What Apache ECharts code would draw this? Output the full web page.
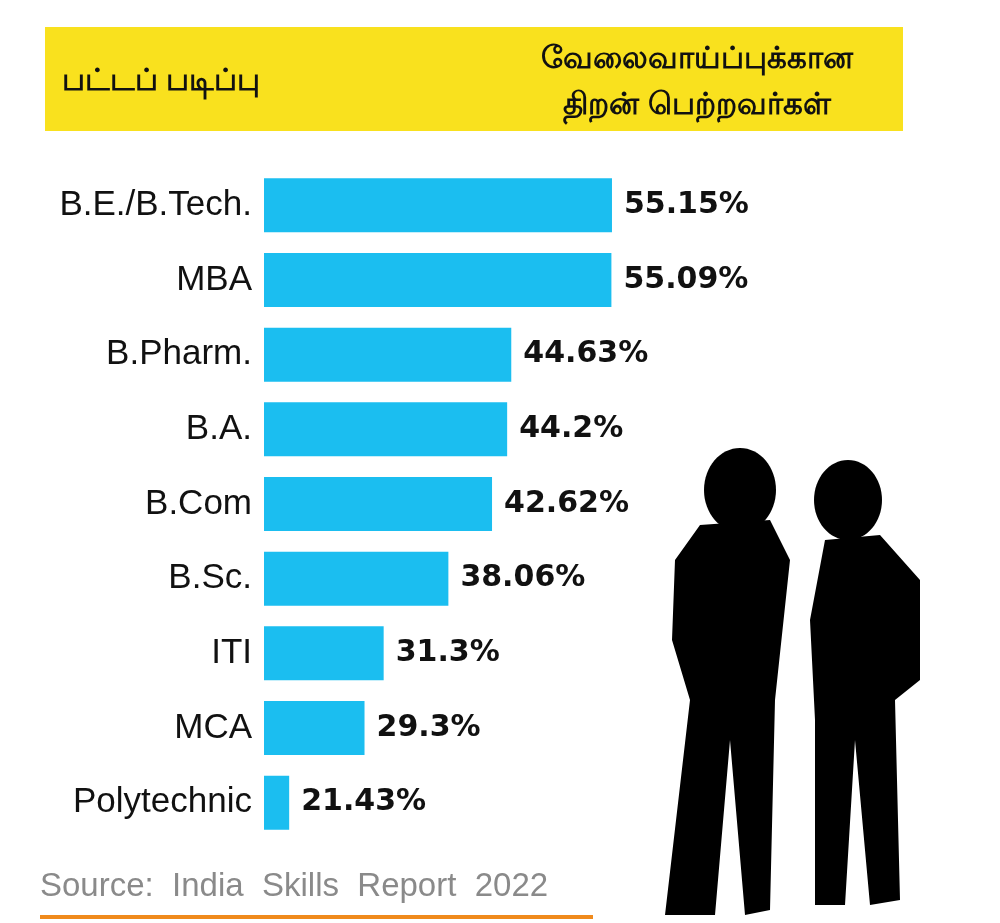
<!DOCTYPE html>
<html>
<head>
<meta charset="utf-8">
<script src="https://cdn.jsdelivr.net/npm/echarts@6/dist/echarts.min.js"></script>
<style>html,body{margin:0;background:#fff}#chart{width:1000px;height:923px}</style>
</head>
<body>
<div id="chart"></div>
<script>
"use strict";

var categories = ['B.E./B.Tech.', 'MBA', 'B.Pharm.', 'B.A.', 'B.Com', 'B.Sc.', 'ITI', 'MCA', 'Polytechnic'];
var values = [55.15, 55.09, 44.63, 44.2, 42.62, 38.06, 31.3, 29.3, 21.43];
var valueLabels = ['55.15%', '55.09%', '44.63%', '44.2%', '42.62%', '38.06%', '31.3%', '29.3%', '21.43%'];

var chart = echarts.init(document.getElementById('chart'));

// rough silhouettes of two students
var silhouettes = [
    // man
    { type: 'ellipse', shape: { cx: 740, cy: 490, rx: 36, ry: 42 } },
    { type: 'polygon', shape: { points: [[700, 525], [770, 520], [790, 560], [775, 700], [770, 910], [745, 915], [730, 740], [715, 915], [665, 915], [690, 700], [672, 640], [675, 560]] } },
    // woman
    { type: 'ellipse', shape: { cx: 848, cy: 500, rx: 34, ry: 40 } },
    { type: 'polygon', shape: { points: [[825, 540], [880, 535], [920, 580], [920, 680], [895, 700], [900, 900], [870, 905], [855, 740], [845, 905], [815, 905], [815, 720], [810, 620]] } }
].map(function (s) { s.style = { fill: '#000' }; return s; });

var option = {
    backgroundColor: '#fff',
    animation: false,
    grid: { left: 264, right: 198, top: 168, bottom: 83 },
    xAxis: { type: 'value', min: 18.8, max: 75, show: false },
    yAxis: {
        type: 'category',
        data: categories,
        inverse: true,
        axisLine: { show: false },
        axisTick: { show: false },
        axisLabel: { color: '#111', fontSize: 35, fontFamily: 'Liberation Sans', margin: 12 }
    },
    series: [{
        type: 'bar',
        data: values,
        barWidth: 54,
        itemStyle: { color: '#1bbef0' },
        label: {
            show: true,
            position: 'right',
            distance: 12,
            color: '#111',
            fontSize: 30,
            fontWeight: 'bold',
            fontFamily: 'DejaVu Sans',
            formatter: function (p) { return valueLabels[p.dataIndex]; }
        }
    }],
    graphic: [
        { type: 'rect', shape: { x: 45, y: 27, width: 858, height: 104 }, style: { fill: '#f9e11e' } },
        { type: 'text', left: 62, top: 66, style: { text: 'பட்டப் படிப்பு', fontSize: 31, fontWeight: 'bold', fill: '#111', fontFamily: 'Noto Sans' } },
        { type: 'text', x: 697, y: 36, style: { text: 'வேலைவாய்ப்புக்கான\nதிறன் பெற்றவர்கள்', fontSize: 31, fontWeight: 'bold', lineHeight: 46, align: 'center', fill: '#111', fontFamily: 'Noto Sans' } },
        { type: 'text', left: 40, top: 870, style: { text: 'Source:  India  Skills  Report  2022', fontSize: 33, fill: '#8a8a8a', fontFamily: 'Liberation Sans' } },
        { type: 'rect', shape: { x: 40, y: 915, width: 553, height: 4 }, style: { fill: '#f08a1c' } }
    ].concat(silhouettes)
};

chart.setOption(option);
</script>
</body>
</html>
